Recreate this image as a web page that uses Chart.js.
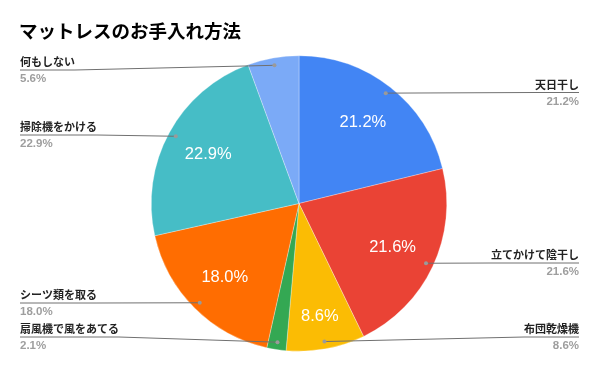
<!DOCTYPE html>
<html><head><meta charset="utf-8">
<script src="https://cdn.jsdelivr.net/npm/chart.js@4.4.1/dist/chart.umd.min.js"></script>
<style>html,body{margin:0;padding:0;background:#fff}#wrap{width:598px;height:371px;position:relative}canvas{display:block}</style>
</head><body><div id="wrap"><canvas id="c" width="598" height="371"></canvas></div>
<script>
const chartTitle = 'マットレスのお手入れ方法';
const categories = ['天日干し','立てかけて陰干し','布団乾燥機','扇風機で風をあてる','シーツ類を取る','掃除機をかける','何もしない'];
const values = [21.2, 21.6, 8.6, 2.1, 18.0, 22.9, 5.6];
const sliceColors = ['#4285F4','#EA4335','#FBBC04','#34A853','#FF6D01','#46BDC6','#7BAAF7'];

// layout (not data)
const labelLineY = [92.5, 263, 337, 337, 303, 135, 70];
const innerFactor = [0.70, 0.70, 0.78, null, 0.71, 0.70, null];
const JP = '"Noto Sans CJK JP", "Noto Sans", sans-serif';
const LAT = '"Liberation Sans", Arial, sans-serif';

const labelPlugin = {
  id: 'labels',
  afterDraw(chart) {
    const ctx = chart.ctx;
    const meta = chart.getDatasetMeta(0);
    ctx.save();
    ctx.fillStyle = '#000';
    ctx.font = 'bold 18.5px ' + JP;
    ctx.textAlign = 'left';
    ctx.textBaseline = 'middle';
    ctx.fillText(chartTitle, 19, 31);
    meta.data.forEach((arc, i) => {
      const p = arc.getProps(['x','y','startAngle','endAngle','outerRadius'], true);
      const mid = (p.startAngle + p.endAngle) / 2;
      const r = p.outerRadius;
      if (innerFactor[i]) {
        const f = innerFactor[i];
        ctx.font = '16.5px ' + LAT;
        ctx.fillStyle = '#fff';
        ctx.textAlign = 'center';
        ctx.textBaseline = 'middle';
        ctx.fillText(values[i].toFixed(1) + '%', p.x + Math.cos(mid) * r * f, p.y + Math.sin(mid) * r * f);
      }
      const dx = p.x + Math.cos(mid) * r * 0.95;
      const dy = p.y + Math.sin(mid) * r * 0.95;
      const right = Math.cos(mid) >= 0;
      const ly = labelLineY[i];
      ctx.font = 'bold 11px ' + JP;
      const w = ctx.measureText(categories[i]).width;
      let endX, elbowX;
      if (right) { endX = 579; elbowX = endX - w; } else { endX = 20; elbowX = endX + w; }
      ctx.strokeStyle = '#707070';
      ctx.lineWidth = 1;
      ctx.beginPath();
      ctx.moveTo(dx, dy);
      if ((right && dx < elbowX) || (!right && dx > elbowX)) ctx.lineTo(elbowX, ly);
      ctx.lineTo(endX, ly);
      ctx.stroke();
      ctx.fillStyle = '#9a9a9a';
      ctx.beginPath();
      ctx.arc(dx, dy, 2, 0, Math.PI * 2);
      ctx.fill();
      ctx.textAlign = right ? 'right' : 'left';
      ctx.textBaseline = 'middle';
      ctx.fillStyle = '#222';
      ctx.font = 'bold 11px ' + JP;
      ctx.fillText(categories[i], endX, ly - 8);
      ctx.fillStyle = '#9e9e9e';
      ctx.font = 'bold 11.5px ' + LAT;
      ctx.fillText(values[i].toFixed(1) + '%', endX, ly + 9);
    });
    ctx.restore();
  }
};

new Chart(document.getElementById('c'), {
  type: 'pie',
  data: {
    labels: categories,
    datasets: [{ data: values, backgroundColor: sliceColors, borderColor: 'rgba(255,255,255,0.6)', borderWidth: 0.5 }]
  },
  options: {
    responsive: false,
    animation: false,
    layout: { padding: { top: 55, bottom: 19, left: 151, right: 151 } },
    plugins: { legend: { display: false }, tooltip: { enabled: false }, title: { display: false } }
  },
  plugins: [labelPlugin]
});
</script></body></html>
